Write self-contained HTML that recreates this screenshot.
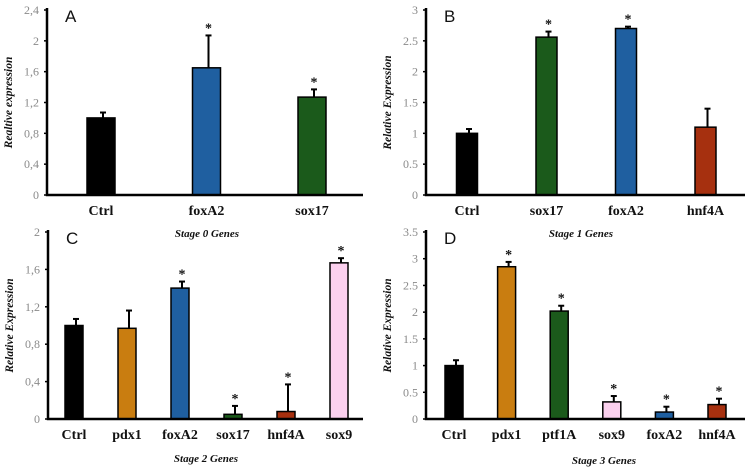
<!DOCTYPE html>
<html><head><meta charset="utf-8"><style>
body{margin:0;background:#fff;width:748px;height:474px;overflow:hidden}
svg{display:block}
.tick{font-family:"Liberation Serif",serif;font-size:12px;fill:#8a8a8a}
.cat{font-family:"Liberation Serif",serif;font-size:14px;font-weight:bold;fill:#111}
.yt{font-family:"Liberation Serif",serif;font-size:11.5px;font-weight:bold;font-style:italic;fill:#111}
.st{font-family:"Liberation Serif",serif;font-size:11px;font-weight:bold;font-style:italic;fill:#111}
.pl{font-family:"Liberation Sans",sans-serif;font-size:17px;fill:#111}
</style></head><body>
<svg id="fig" width="748" height="474" viewBox="0 0 748 474" xmlns="http://www.w3.org/2000/svg"></svg>
<script>
// Panel A
const catsA=["Ctrl","foxA2","sox17"];
const valsA=[1.0,1.65,1.27];
const errA=[0.07,0.42,0.10];
const sigA=[false,true,true];
const ticksA=["0","0,4","0,8","1,2","1,6","2","2,4"];
// Panel B
const catsB=["Ctrl","sox17","foxA2","hnf4A"];
const valsB=[1.0,2.56,2.7,1.1];
const errB=[0.07,0.09,0.03,0.3];
const sigB=[false,true,true,false];
const ticksB=["0","0.5","1","1.5","2","2.5","3"];
// Panel C
const catsC=["Ctrl","pdx1","foxA2","sox17","hnf4A","sox9"];
const valsC=[1.0,0.97,1.4,0.05,0.08,1.67];
const errC=[0.07,0.19,0.07,0.09,0.29,0.05];
const sigC=[false,false,true,true,true,true];
const ticksC=["0","0,4","0,8","1,2","1,6","2"];
// Panel D
const catsD=["Ctrl","pdx1","ptf1A","sox9","foxA2","hnf4A"];
const valsD=[1.0,2.85,2.02,0.32,0.13,0.27];
const errD=[0.1,0.09,0.1,0.11,0.1,0.11];
const sigD=[false,true,true,true,true,true];
const ticksD=["0","0.5","1","1.5","2","2.5","3","3.5"];

const NS="http://www.w3.org/2000/svg";
const svg=document.getElementById('fig');
function mk(tag,attrs,parent,text){const e=document.createElementNS(NS,tag);for(const k in attrs)e.setAttribute(k,attrs[k]);if(text!==undefined)e.textContent=text;(parent||svg).appendChild(e);return e;}

function panel(p){
  const g=mk('g',{});
  
  
  const y=v=>p.y0-(v/p.max)*(p.y0-p.yTop);
  const x=i=>p.first+i*p.step;
  const n=p.ticks.length;
  p.ticks.forEach((t,i)=>{
    const v=p.max*i/(n-1);
    const tl=mk('text',{x:p.ax-8,y:y(v)+4,'text-anchor':'end',class:'tick'},g,t);
    
    
    mk('line',{x1:p.ax-3,x2:p.ax,y1:y(v),y2:y(v),stroke:'#000','stroke-width':1.5},g);
  });
  p.cats.forEach((c,i)=>{
    const cx=x(i), v=p.vals[i], e=p.errs[i];
    const et=y(v+e);
    mk('line',{x1:cx+2,x2:cx+2,y1:y(v),y2:et,stroke:'#000','stroke-width':2},g);
    mk('line',{x1:cx-1,x2:cx+5,y1:et,y2:et,stroke:'#000','stroke-width':2},g);
    const b=mk('rect',{x:cx-p.bw/2,y:y(v),width:p.bw,height:Math.max(0,p.y0-y(v)),fill:p.colors[i],stroke:'#000','stroke-width':1.5},g);
    
    
    if(p.sig[i]){const s=mk('text',{x:cx+2,y:et-3,'text-anchor':'middle',class:'cat','font-size':'11'},g,'*');
      
      }
    const l=mk('text',{x:cx,y:p.y0+20,'text-anchor':'middle',class:'cat'},g,c);
    
    
  });
  const ax=mk('path',{d:`M${p.ax},${p.yTop-2} V${p.y0} H${p.axEnd}`,fill:'none',stroke:'#000','stroke-width':2.5},g);
  
  
  const yt=mk('text',{transform:`translate(${p.ax-35},${(p.y0+p.yTop)/2}) rotate(-90)`,'text-anchor':'middle',class:'yt'},g,p.ytitle);
  
  
  const pl=mk('text',{x:p.ax+18,y:p.yTop+12,class:'pl'},g,p.id);
  
  
  const st=mk('text',{x:p.stx,y:p.sty,'text-anchor':'middle',class:'st'},g,p.stage);
  
  
}
const K='#000',BL='#1f5fa0',GR='#1b5a1b',RD='#a6300f',OR='#c97d10',PK='#fbd0ee';
panel({id:'A',cats:catsA,vals:valsA,errs:errA,sig:sigA,ticks:ticksA,max:2.4,ax:47,axEnd:363,yTop:10,y0:195,first:101,step:105.5,bw:28,colors:[K,BL,GR],ytitle:'Realtive expression',stage:'Stage 0 Genes',stx:207,sty:237});
panel({id:'B',cats:catsB,vals:valsB,errs:errB,sig:sigB,ticks:ticksB,max:3,ax:426,axEnd:745,yTop:10,y0:195,first:467,step:79.5,bw:21,colors:[K,GR,BL,RD],ytitle:'Relative Expression',stage:'Stage 1 Genes',stx:581,sty:237});
panel({id:'C',cats:catsC,vals:valsC,errs:errC,sig:sigC,ticks:ticksC,max:2,ax:48,axEnd:363,yTop:232,y0:419,first:74,step:53,bw:18,colors:[K,OR,BL,GR,RD,PK],ytitle:'Relative Expression',stage:'Stage 2 Genes',stx:206,sty:462});
panel({id:'D',cats:catsD,vals:valsD,errs:errD,sig:sigD,ticks:ticksD,max:3.5,ax:426,axEnd:745,yTop:232,y0:419,first:454,step:52.6,bw:18,colors:[K,OR,GR,PK,BL,RD],ytitle:'Relative Expression',stage:'Stage 3 Genes',stx:604,sty:464});
</script>
</body></html>
